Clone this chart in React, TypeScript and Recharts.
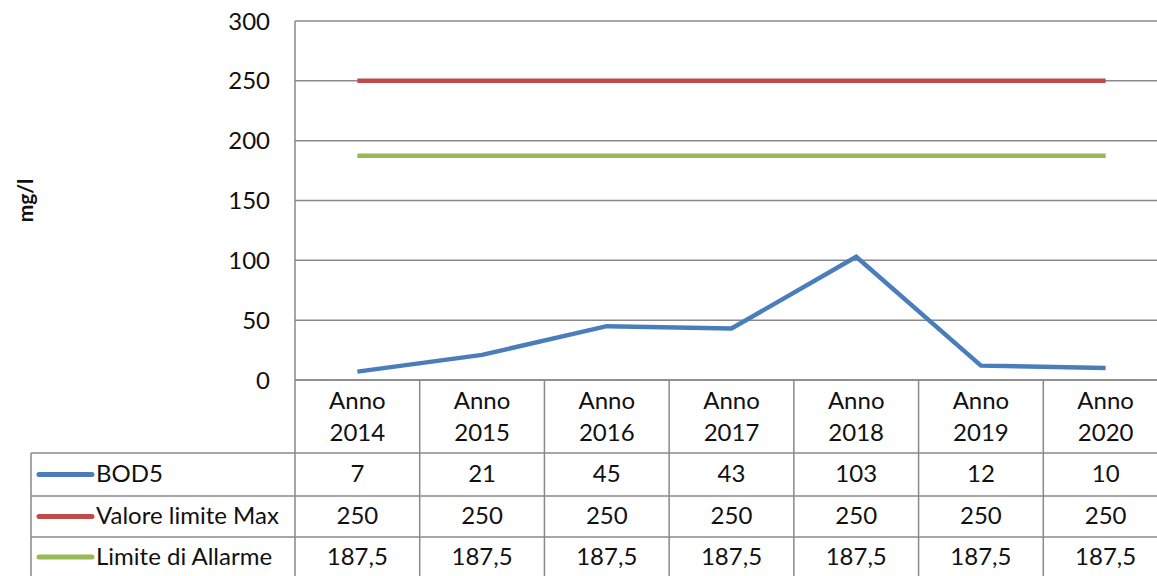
import React from 'react';
import { LineChart, Line, XAxis, YAxis, CartesianGrid } from 'recharts';

const years = ['Anno 2014', 'Anno 2015', 'Anno 2016', 'Anno 2017', 'Anno 2018', 'Anno 2019', 'Anno 2020'];
const bod5 = [7, 21, 45, 43, 103, 12, 10];
const limiteMax = [250, 250, 250, 250, 250, 250, 250];
const limiteAllarme = [187.5, 187.5, 187.5, 187.5, 187.5, 187.5, 187.5];
const yTicks = [0, 50, 100, 150, 200, 250, 300];

const series = [
    { key: 'bod5', name: 'BOD5', color: '#4a7ebb', values: bod5 },
    { key: 'max', name: 'Valore limite Max', color: '#be4b48', values: limiteMax },
    { key: 'allarme', name: 'Limite di Allarme', color: '#98b954', values: limiteAllarme },
];

const data = years.map((year, i) => ({
    year,
    bod5: bod5[i],
    max: limiteMax[i],
    allarme: limiteAllarme[i],
}));

const W = 1180;
const H = 590;
const PLOT_LEFT = 295;
const PLOT_RIGHT = 12;
const PLOT_BOTTOM = 380;
const COL_W = (W - PLOT_LEFT - PLOT_RIGHT) / years.length;
const ROWS = [453, 496, 537, 577];
const TABLE_LEFT = 31;
const GRID = '#898989';
const FONT = 'Lato, "Open Sans", sans-serif';
const FS = 24;

const fmt = (v: number) => String(v).replace('.', ',');

// each x tick draws its whole column of the data table
const TableColumn = (props: any) => {
    const { x, payload, index } = props;
    const left = x - COL_W / 2;
    const right = x + COL_W / 2;
    const [word, year] = String(payload.value).split(' ');
    return (
        <g fontFamily={FONT} fontSize={FS} fill="#111">
            <line x1={left} y1={PLOT_BOTTOM} x2={left} y2={H} stroke={GRID} strokeWidth={1.5} />
            {index === years.length - 1 && (
                <line x1={right} y1={PLOT_BOTTOM} x2={right} y2={H} stroke={GRID} strokeWidth={1.5} />
            )}
            {ROWS.slice(0, 3).map((ry) => (
                <line key={ry} x1={left} y1={ry} x2={right} y2={ry} stroke={GRID} strokeWidth={1.5} />
            ))}
            <text x={x} y={399} textAnchor="middle" dominantBaseline="central" fill="#111">{word}</text>
            <text x={x} y={431} textAnchor="middle" dominantBaseline="central" fill="#111">{year}</text>
            {series.map((s, r) => (
                <text key={s.key} x={x} y={(ROWS[r] + ROWS[r + 1]) / 2 - 2} textAnchor="middle" dominantBaseline="central" fill="#111">
                    {fmt(s.values[index])}
                </text>
            ))}
            {index === 0 && (
                <g>
                    <line x1={TABLE_LEFT} y1={ROWS[0]} x2={TABLE_LEFT} y2={H} stroke={GRID} strokeWidth={1.5} />
                    {ROWS.slice(0, 3).map((ry) => (
                        <line key={ry} x1={TABLE_LEFT} y1={ry} x2={left} y2={ry} stroke={GRID} strokeWidth={1.5} />
                    ))}
                    {series.map((s, r) => {
                        const cy = (ROWS[r] + ROWS[r + 1]) / 2;
                        return (
                            <g key={s.key}>
                                <line x1={39} y1={cy} x2={92} y2={cy} stroke={s.color} strokeWidth={5} strokeLinecap="round" />
                                <text x={96} y={cy - 2} dominantBaseline="central" fill="#111">{s.name}</text>
                            </g>
                        );
                    })}
                </g>
            )}
        </g>
    );
};

const AxisTitle = (props: any) => {
    const { viewBox } = props;
    const cy = viewBox ? viewBox.y + viewBox.height / 2 : 200;
    return (
        <text
            x={24}
            y={cy}
            transform={`rotate(-90, 24, ${cy})`}
            textAnchor="middle"
            dominantBaseline="central"
            fontFamily={FONT}
            fontSize={21}
            fontWeight={700}
            fill="#111"
        >
            mg/l
        </text>
    );
};

const App: React.FC = () => {
    return (
        <div style={{ position: 'absolute', left: 0, top: 0, width: 1157, height: 576, overflow: 'hidden', background: '#fff' }}>
            <LineChart width={W} height={H} data={data} margin={{ top: 21, right: PLOT_RIGHT, left: 0, bottom: 0 }}>
                <CartesianGrid vertical={false} stroke={GRID} strokeWidth={1.5} />
                <XAxis
                    dataKey="year"
                    height={H - PLOT_BOTTOM}
                    padding={{ left: COL_W / 2, right: COL_W / 2 }}
                    axisLine={{ stroke: GRID, strokeWidth: 1.5 }}
                    tickLine={false}
                    interval={0}
                    tick={<TableColumn />}
                />
                <YAxis
                    width={PLOT_LEFT}
                    domain={[0, 300]}
                    ticks={yTicks}
                    tickSize={0}
                    tickMargin={25}
                    axisLine={{ stroke: GRID, strokeWidth: 1.5 }}
                    tickLine={false}
                    tick={{ fontFamily: FONT, fontSize: FS, fill: '#111' }}
                    label={<AxisTitle />}
                />
                {series.map((s) => (
                    <Line
                        key={s.key}
                        dataKey={s.key}
                        name={s.name}
                        stroke={s.color}
                        strokeWidth={4.5}
                        dot={false}
                        type="linear"
                        isAnimationActive={false}
                    />
                ))}
            </LineChart>
        </div>
    );
};

export default App;
